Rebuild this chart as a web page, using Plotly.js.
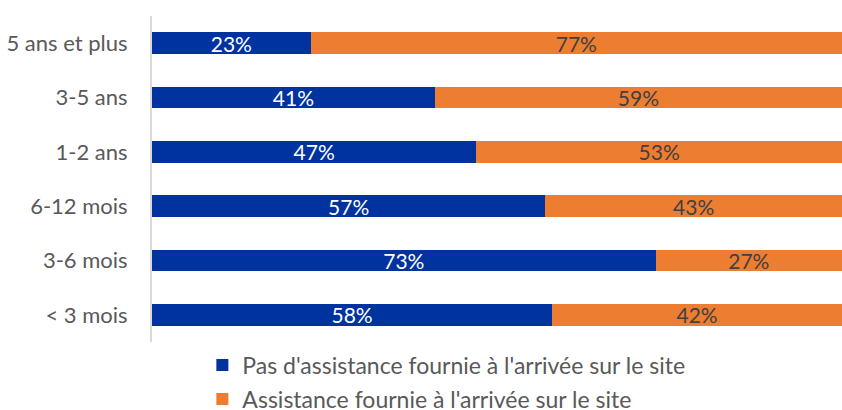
<!DOCTYPE html>
<html><head><meta charset="utf-8">
<script src="https://cdn.plot.ly/plotly-3.0.1.min.js"></script>
<style>html,body{margin:0;padding:0;background:#fff;}#chart{width:842px;height:410px;}</style>
</head><body><div id="chart"></div>
<script>
const categories = ["5 ans et plus", "3-5 ans", "1-2 ans", "6-12 mois", "3-6 mois", "< 3 mois"];
const noAssistance = [23, 41, 47, 57, 73, 58];
const assistance = [77, 59, 53, 43, 27, 42];
const seriesNames = ["Pas d'assistance fournie à l'arrivée sur le site", "Assistance fournie à l'arrivée sur le site"];

const fontFam = "Lato, 'Open Sans', sans-serif";
const traces = [
  {type:'bar', orientation:'h', y:categories, x:noAssistance, name:seriesNames[0],
   marker:{color:'#0033A0'}, text:noAssistance.map(v=>v+'%'), textposition:'inside',
   insidetextanchor:'middle', constraintext:'none', textfont:{color:'#ffffff', size:21, family:fontFam},
   hoverinfo:'none', legendgroup:'a'},
  {type:'bar', orientation:'h', y:categories, x:assistance, name:seriesNames[1],
   marker:{color:'#ED7D31'}, text:assistance.map(v=>v+'%'), textposition:'inside',
   insidetextanchor:'middle', constraintext:'none', textfont:{color:'#404040', size:21, family:fontFam},
   hoverinfo:'none', legendgroup:'b'}
];
const layout = {
  width:842, height:410,
  margin:{l:152, r:0, t:16, b:68, autoexpand:false},
  barmode:'stack', bargap:0.6,
  paper_bgcolor:'#fff', plot_bgcolor:'#fff',
  font:{family:fontFam, color:'#595959', size:18},
  xaxis:{range:[0,100], showticklabels:false, showgrid:false, zeroline:false, showline:false, fixedrange:true},
  yaxis:{type:'category', categoryorder:'array', categoryarray:categories, autorange:'reversed',
         showline:true, linecolor:'#D9D9D9', linewidth:2, ticks:'', ticklabelstandoff:18,
         showgrid:false, zeroline:false, automargin:false, tickfont:{size:22, color:'#595959', family:fontFam}},
  showlegend:true,
  legend:{orientation:'v', x:0.073, xanchor:'left', y:-0.005, yanchor:'top', traceorder:'grouped',
          tracegroupgap:1, font:{size:23, color:'#595959', family:fontFam}, itemwidth:30}
};
Plotly.newPlot('chart', traces, layout, {displayModeBar:false, staticPlot:true});
</script></body></html>
